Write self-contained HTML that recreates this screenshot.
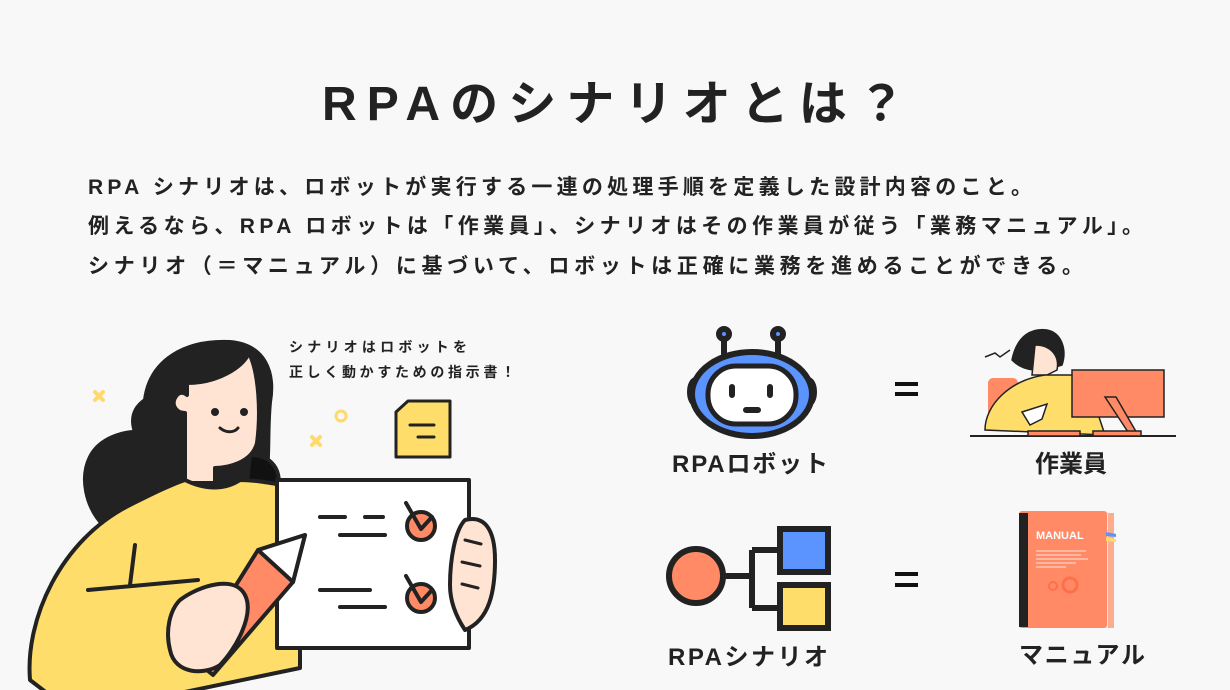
<!DOCTYPE html>
<html><head><meta charset="utf-8"><style>
html,body{margin:0;padding:0;background:#f8f8f8;}
svg{display:block}
text{font-family:"Liberation Sans","Noto Sans CJK JP",sans-serif;fill:#222;font-weight:bold}
</style></head><body>
<svg width="1230" height="690" viewBox="0 0 1230 690" xmlns="http://www.w3.org/2000/svg">
<rect width="1230" height="690" fill="#f8f8f8"/>
<text x="322" y="120" font-size="48" textLength="583" lengthAdjust="spacing">RPAのシナリオとは？</text>
<text x="88" y="194" font-size="21" textLength="944" lengthAdjust="spacing">RPA シナリオは、ロボットが実行する一連の処理手順を定義した設計内容のこと。</text>
<text x="88" y="233" font-size="21" textLength="1055" lengthAdjust="spacing">例えるなら、RPA ロボットは「作業員」、シナリオはその作業員が従う「業務マニュアル」。</text>
<text x="88" y="273" font-size="21" textLength="995" lengthAdjust="spacing">シナリオ（＝マニュアル）に基づいて、ロボットは正確に業務を進めることができる。</text>

<text x="289" y="352" font-size="14" textLength="178" lengthAdjust="spacing" font-weight="normal">シナリオはロボットを</text>
<text x="289" y="377" font-size="14" textLength="226" lengthAdjust="spacing" font-weight="normal">正しく動かすための指示書！</text>

<!-- left illustration -->
<g stroke="#222" stroke-width="4" stroke-linecap="round" stroke-linejoin="round">
<path d="M95 392l8 8M103 392l-8 8M312 437l8 8M320 437l-8 8" stroke="#ffd96a" stroke-width="4"/>
<circle cx="341" cy="416" r="5" fill="none" stroke="#ffd96a" stroke-width="3"/>
<path d="M396 412l12-11h42v56h-54z" fill="#ffdd6b" stroke-width="3"/>
<path d="M410 425h24M418 437h16" stroke-width="3"/>
<path d="M145 400c5-40 40-60 85-58c35 3 45 30 40 60c-3 30 0 60-5 80l-160 45c-20-20-25-50-15-70c10-20 35-25 45-25c-5-15 0-25 10-32z" fill="#222"/>
<path d="M250 455c25 0 35 20 25 45h-30z" fill="#111"/>
<path d="M187 383c30 0 55-15 62-30c10 20 12 60 8 90c-5 20-30 25-42 25v15h-30v-70c-10 0-15-10-8-18c5-5 10 0 10 0z" fill="#ffe4d4"/>
<circle cx="215" cy="412" r="4" fill="#222" stroke="none"/><circle cx="244" cy="412" r="4" fill="#222" stroke="none"/>
<path d="M220 428c6 5 14 5 18 0" fill="none" stroke-width="3"/>
<path d="M30 680c-5-60 30-140 100-175c20-10 40-20 55-25c20 10 40 10 55 0c20 0 40 5 60 8l0 180l-120 25l-20 20l-100-10z" fill="#ffdd6b"/>
<path d="M135 545l-5 40M88 590l110-10" fill="none"/>
<rect x="277" y="480" width="192" height="168" fill="#fff"/>
<path d="M320 517h25M365 517h18M340 535h45M320 590h50M340 607h45" stroke-width="4"/>
<circle cx="421" cy="526" r="14" fill="#ff8a65"/><path d="M406 503l15 26l11-12" fill="none"/>
<circle cx="421" cy="598" r="14" fill="#ff8a65"/><path d="M406 576l15 26l11-12" fill="none"/>
<path d="M465 520c20-5 30 10 30 40c0 30-5 60-30 70c-10-15-15-30-15-45c0-25 5-55 15-65z" fill="#ffe4d4"/>
<path d="M465 540l16 4M462 562l18 4M462 584l16 4" fill="none" stroke-width="3"/>
<path d="M258 550l47-15l-12 47l-80 93l-22-18z" fill="#ff8a65"/>
<path d="M258 550l47-15l-12 47z" fill="#fff"/>
<path d="M180 600c20-15 55-25 65-5c10 20-10 55-25 70c-15 10-45 10-50-15c-5-20 0-40 10-50z" fill="#ffe4d4"/>
</g>

<!-- robot -->
<g stroke="#222" stroke-width="6" stroke-linecap="round">
<path d="M724 334v20M778 334v20"/>
<circle cx="724" cy="334" r="5" fill="#5b93ff"/><circle cx="778" cy="334" r="5" fill="#5b93ff"/>
<ellipse cx="696" cy="392" rx="6" ry="12" fill="#fff"/><ellipse cx="808" cy="392" rx="6" ry="12" fill="#fff"/>
<ellipse cx="752" cy="394" rx="60" ry="42" fill="#5b93ff"/>
<rect x="708" y="366" width="88" height="58" rx="28" fill="#fff" stroke-width="5"/>
<path d="M732 387v8M770 387v8M746 410h12"/>
</g>
<text x="672" y="472" font-size="24" textLength="156" lengthAdjust="spacing">RPAロボット</text>
<path d="M895 384h23M895 394h23M895 574h23M895 585h23" stroke="#111" stroke-width="4"/>

<!-- worker -->
<g stroke="#222" stroke-width="1.5">
<path d="M970 436h206" stroke-width="2"/>
<rect x="988" y="378" width="30" height="40" rx="5" fill="#ff8a65" stroke="none"/>
<path d="M1012 360c5-25 20-32 35-30c15 3 20 20 15 35c-15 5-35 10-50-5z" fill="#222"/>
<path d="M1035 345c15 0 25 10 22 25l-10 5h-15z" fill="#ffe4d4"/>
<path d="M985 430c0-25 25-50 60-55h40l20 60z" fill="#ffdd6b"/>
<path d="M1022 412l25-8l-5 15l-12 6z" fill="#fff"/>
<rect x="1072" y="370" width="92" height="47" fill="#ff8a65"/>
<path d="M1105 397l25 38h8l-22-38z" fill="#ff8a65"/>
<rect x="1028" y="431" width="52" height="5" fill="#ff8a65"/><rect x="1093" y="431" width="48" height="5" fill="#ff8a65"/>
<path d="M985 357l10-4l5 4l10-7" fill="none"/>
</g>
<text x="1035" y="472" font-size="24">作業員</text>

<!-- scenario -->
<g stroke="#222" stroke-width="6">
<path d="M723 576h29M752 550v58M752 550h25M752 608h25" fill="none"/>
<circle cx="696" cy="576" r="27" fill="#ff8a65"/>
<rect x="780" y="529" width="48" height="43" fill="#5b93ff"/>
<rect x="780" y="585" width="48" height="43" fill="#ffdd6b"/>
</g>
<text x="668" y="665" font-size="24" textLength="160" lengthAdjust="spacing">RPAシナリオ</text>

<!-- manual -->
<rect x="1104" y="513" width="10" height="115" fill="#ff8a65" opacity=".7"/>
<rect x="1100" y="512" width="8" height="116" fill="#d8eee8"/>
<rect x="1019" y="511" width="88" height="117" rx="3" fill="#ff8a65"/>
<rect x="1019" y="513" width="9" height="114" fill="#222"/>
<text x="1036" y="539" font-size="11" style="fill:#fff">MANUAL</text>
<g stroke="#fff" stroke-width="1" opacity=".8"><path d="M1036 551h50M1036 555h45M1036 559h52M1036 563h40M1036 567h30"/></g>
<circle cx="1070" cy="585" r="7" fill="none" stroke="#ff6f4a" stroke-width="3"/>
<circle cx="1053" cy="586" r="4" fill="none" stroke="#ff6f4a" stroke-width="2"/>
<path d="M1106 532l10 2v3l-10-1z" fill="#5b93ff"/><path d="M1106 537l10 2v3l-10-1z" fill="#ffdd6b"/>
<text x="1019" y="663" font-size="24" textLength="126" lengthAdjust="spacing">マニュアル</text>
</svg>
</body></html>
